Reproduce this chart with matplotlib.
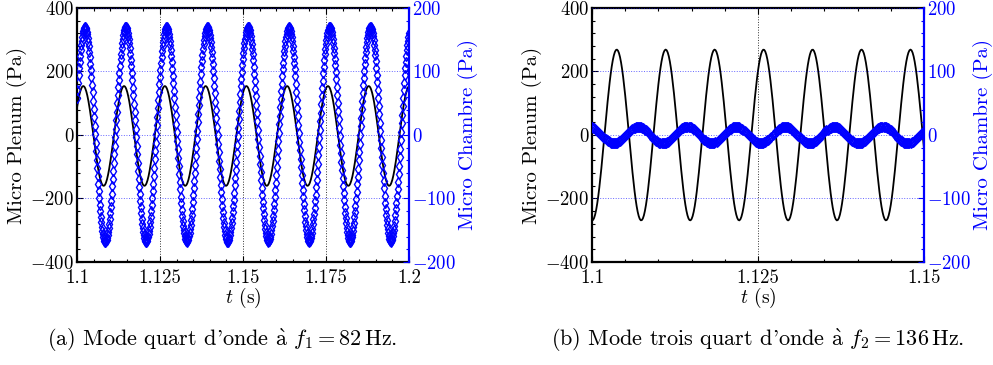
import numpy as np
import matplotlib
matplotlib.use("Agg")
import matplotlib.pyplot as plt
from matplotlib.ticker import AutoMinorLocator

plt.rcParams['font.family'] = 'serif'
plt.rcParams['font.serif'] = ['cmr10']
plt.rcParams['mathtext.fontset'] = 'cm'
plt.rcParams['axes.unicode_minus'] = False

# --- values ---
fs = 6400  # sampling rate of the acquisition (Hz)

# (a) quarter-wave mode
t_span_a = [1.1, 1.2]
f_a = 81.4                      # measured period ~12.3 ms
plenum_amp_a, plenum_peak_a, plenum_off_a = 157.0, 1.1019, -3.0
chambre_amp_a, chambre_peak_a, chambre_off_a = 169.0, 1.1024, 1.0
xticks_a = [1.1, 1.125, 1.15, 1.175, 1.2]
xlabels_a = ['1.1', '1.125', '1.15', '1.175', '1.2']

# (b) three-quarter-wave mode
t_span_b = [1.1, 1.15]
f_b = 135.6                     # measured period ~7.4 ms
plenum_amp_b, plenum_peak_b, plenum_off_b = 269.0, 1.10372, 0.0
chambre_amp_b, chambre_peak_b, chambre_off_b = 13.0, 1.10697, 0.0
xticks_b = [1.1, 1.125, 1.15]
xlabels_b = ['1.1', '1.125', '1.15']

yticks_left = [-400, -200, 0, 200, 400]
ylabels_left = ['$-400$', '$-200$', '$0$', '$200$', '$400$']
yticks_right = [-200, -100, 0, 100, 200]
ylabels_right = ['$-200$', '$-100$', '$0$', '$100$', '$200$']

captions = [r"(a) Mode quart d'onde $\mathrm{\grave{a}}$ $f_1 = 82\,\mathrm{Hz}$.",
            r"(b) Mode trois quart d'onde $\mathrm{\grave{a}}$ $f_2 = 136\,\mathrm{Hz}$."]

# sampled pressure signals
t_a = np.arange(t_span_a[0], t_span_a[1] + 1e-9, 1 / fs)
plenum_a = plenum_amp_a * np.cos(2 * np.pi * f_a * (t_a - plenum_peak_a)) + plenum_off_a
chambre_a = chambre_amp_a * np.cos(2 * np.pi * f_a * (t_a - chambre_peak_a)) + chambre_off_a
t_b = np.arange(t_span_b[0], t_span_b[1] + 1e-9, 1 / fs)
plenum_b = plenum_amp_b * np.cos(2 * np.pi * f_b * (t_b - plenum_peak_b)) + plenum_off_b
chambre_b = chambre_amp_b * np.cos(2 * np.pi * f_b * (t_b - chambre_peak_b)) + chambre_off_b

BLUE = '#0000ff'


def panel(ax, t, plenum, chambre, span, xticks, xlabels):
    ax2 = ax.twinx()
    ax.plot(t, plenum, color='k', lw=1.3)
    ax2.plot(t, chambre, ls='none', marker='d', ms=5.5, mfc='none', mec=BLUE, mew=1.0)

    ax.set_xlim(span)
    ax.set_ylim(-400, 400)
    ax2.set_ylim(-200, 200)
    ax.set_xticks(xticks, xlabels)
    ax.set_yticks(yticks_left, ylabels_left)
    ax2.set_yticks(yticks_right, ylabels_right)
    ax.xaxis.set_minor_locator(AutoMinorLocator(5))
    ax.yaxis.set_minor_locator(AutoMinorLocator(5))
    ax2.yaxis.set_minor_locator(AutoMinorLocator(5))

    ax.grid(axis='x', ls=':', color='k', lw=0.7, alpha=0.8)
    ax2.grid(axis='y', ls=':', color=BLUE, lw=0.7, alpha=0.6)

    for s in ['left', 'top', 'bottom']:
        ax.spines[s].set_linewidth(1.6)
        ax2.spines[s].set_visible(False)
    ax.spines['right'].set_visible(False)
    ax2.spines['right'].set_color(BLUE)
    ax2.spines['right'].set_linewidth(1.6)

    ax.tick_params(which='both', direction='in', top=True, labelsize=13.5)
    ax.tick_params(axis='y', pad=2)
    ax.tick_params(axis='x', pad=5)
    ax.tick_params(which='major', length=4, width=0.8)
    ax.tick_params(which='minor', length=2, width=0.8)
    ax2.tick_params(which='both', direction='in', colors=BLUE, labelsize=13.5, pad=2)
    ax2.tick_params(which='major', length=4, width=0.8)
    ax2.tick_params(which='minor', length=2, width=0.8)

    ax.set_xlabel('$t$ (s)', fontsize=14)
    ax.set_ylabel('Micro Plenum (Pa)', fontsize=15)
    ax2.set_ylabel('Micro Chambre (Pa)', fontsize=15, color=BLUE)
    ax.xaxis.set_label_coords(0.5, -0.095)
    ax.yaxis.set_label_coords(-0.15, 0.5)
    ax2.yaxis.set_label_coords(1.148, 0.5)


fig = plt.figure(figsize=(9.93, 3.65), dpi=100)
ax_a = fig.add_axes([0.0775, 0.2822, 0.3343, 0.6959])
ax_b = fig.add_axes([0.5962, 0.2822, 0.3343, 0.6959])

panel(ax_a, t_a, plenum_a, chambre_a, t_span_a, xticks_a, xlabels_a)
panel(ax_b, t_b, plenum_b, chambre_b, t_span_b, xticks_b, xlabels_b)

fig.text(222 / 993, 1 - 340 / 365, captions[0], ha='center', va='center', fontsize=16)
fig.text(758 / 993, 1 - 340 / 365, captions[1], ha='center', va='center', fontsize=16)

fig.savefig('out.png', dpi=100)
